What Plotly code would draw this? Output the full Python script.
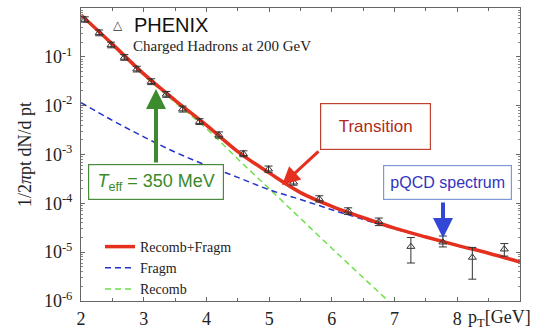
import plotly.graph_objects as go

# ---------------- data ----------------
curve_x = [2.0, 2.5, 3.0, 3.5, 4.0, 4.5, 5.0, 5.5, 6.0, 6.5, 7.0, 7.5, 8.0, 8.5, 9.0]
recomb_fragm = [0.72, 0.182, 0.0447, 0.0129, 4.0e-3, 1.15e-3, 4.2e-4, 1.66e-4,
                8.7e-5, 5.1e-5, 3.1e-5, 2.04e-5, 1.38e-5, 9.5e-6, 6.3e-6]
fragm = [1.15e-2, 5.0e-3, 2.3e-3, 1.12e-3, 6.0e-4, 3.4e-4, 1.9e-4, 1.2e-4,
         7.4e-5, 4.7e-5, 3.0e-5, 2.04e-5, 1.38e-5, 9.5e-6, 6.3e-6]
recomb_x = [2.0, 2.5, 3.0, 3.5, 4.0, 4.5, 5.0, 5.5, 6.0, 6.5, 7.0]
recomb = [0.71, 0.174, 0.0417, 0.0117, 3.4e-3, 8.1e-4, 2.0e-4, 4.9e-5, 1.2e-5, 3.0e-6, 7.6e-7]

phenix_pt = [2.06, 2.29, 2.48, 2.69, 2.89, 3.12, 3.36, 3.62, 3.89, 4.20,
             4.59, 4.99, 5.39, 5.80, 6.26, 6.75, 7.26, 7.77, 8.24, 8.75]
phenix_y = [0.58, 0.31, 0.175, 0.097, 0.056, 0.031, 0.017, 0.0085, 0.0047, 0.0025,
            1.03e-3, 5.0e-4, 2.7e-4, 1.23e-4, 6.9e-5, 4.2e-5, 1.3e-5, 1.6e-5, 7.8e-6, 1.15e-5]
phenix_err_up = [0.08, 0.045, 0.025, 0.014, 0.008, 0.0045, 0.0025, 0.0013, 0.0007, 0.0004,
                 1.6e-4, 8e-5, 4e-5, 2e-5, 1.2e-5, 8e-6, 7e-6, 5.4e-6, 4.7e-6, 3.5e-6]
phenix_err_dn = [0.07, 0.04, 0.022, 0.012, 0.007, 0.004, 0.0022, 0.0011, 0.0006, 0.00033,
                 1.3e-4, 7e-5, 3.5e-5, 1.7e-5, 1e-5, 7e-6, 7e-6, 3.2e-6, 5.0e-6, 3.2e-6]

x_ticks = [2, 3, 4, 5, 6, 7, 8]
y_tick_vals = [1e-6, 1e-5, 1e-4, 1e-3, 1e-2, 1e-1, 1]
y_tick_text = ["10<sup>-6</sup>", "10<sup>-5</sup>", "10<sup>-4</sup>", "10<sup>-3</sup>",
               "10<sup>-2</sup>", "10<sup>-1</sup>", "10<sup>0</sup>"]

SERIF = "Liberation Serif"
SANS = "Liberation Sans"

# plot-area pixel geometry
W, H = 549, 330
L, R, T, B = 81, 29, 8, 29
PW, PH = W - L - R, H - T - B


def px(x):
    return (x - L) / PW


def py(y):
    return (H - B - y) / PH


fig = go.Figure()
fig.add_trace(go.Scatter(x=recomb_x, y=recomb, mode="lines", name="Recomb", legendrank=3,
                         line=dict(color="#6ee04a", width=1.5, dash="6px,4px", shape="spline")))
fig.add_trace(go.Scatter(x=curve_x, y=fragm, mode="lines", name="Fragm", legendrank=2,
                         line=dict(color="#2233cc", width=1.5, dash="6px,4px", shape="spline")))
fig.add_trace(go.Scatter(x=curve_x, y=recomb_fragm, mode="lines", name="Recomb+Fragm", legendrank=1,
                         line=dict(color="#e5301f", width=3.5, shape="spline")))
fig.add_trace(go.Scatter(x=phenix_pt, y=phenix_y, mode="markers", showlegend=False,
                         marker=dict(symbol="triangle-up-open", size=7, color="#333",
                                     line=dict(width=1)),
                         error_y=dict(type="data", symmetric=False, array=phenix_err_up,
                                      arrayminus=phenix_err_dn, color="#333",
                                      thickness=1, width=4)))

fig.update_layout(
    width=W, height=H,
    margin=dict(l=L, r=R, t=T, b=B, autoexpand=False),
    paper_bgcolor="white", plot_bgcolor="white",
    showlegend=True,
    legend=dict(x=px(100), y=py(231), xanchor="left", yanchor="top",
                bgcolor="rgba(0,0,0,0)", borderwidth=0,
                font=dict(family=SERIF, size=14, color="#222"),
                tracegroupgap=0, itemwidth=30),
    xaxis=dict(range=[2, 9], tickvals=x_ticks, ticks="inside", ticklen=4, automargin=False,
               showline=True, mirror="ticks", linecolor="#666", linewidth=1,
               tickcolor="#666", showgrid=False, zeroline=False, ticklabelstandoff=1,
               tickfont=dict(family=SERIF, size=18, color="#222"),
               minor=dict(dtick=0.5, ticks="inside", ticklen=3, tickcolor="#666", showgrid=False)),
    yaxis=dict(type="log", range=[-6, 0], tickvals=y_tick_vals, ticktext=y_tick_text,
               ticks="inside", ticklen=4, showline=True, mirror="ticks", automargin=False,
               linecolor="#666", linewidth=1, tickcolor="#666", showgrid=False,
               zeroline=False, ticklabelstandoff=4,
               tickfont=dict(family=SERIF, size=18, color="#222"),
               minor=dict(dtick="D1", ticks="inside", ticklen=2, tickcolor="#888", showgrid=False)),
)


def note(x, y, text, **kw):
    d = dict(x=px(x), y=py(y), xref="paper", yref="paper", showarrow=False,
             text=text, xanchor="center", yanchor="middle")
    d.update(kw)
    return d


ann = []
# y axis title
ann.append(note(25, 154, "1/2<i>π</i>pt dN/d pt", textangle=-90,
                font=dict(family=SERIF, size=18, color="#222")))
# x axis title
ann.append(note(466, 318, "p<sub>T</sub>[GeV]", xanchor="left",
                font=dict(family=SERIF, size=18, color="#222")))
# PHENIX label
ann.append(note(118, 25, "△", font=dict(family="DejaVu Sans", size=12, color="#333")))
ann.append(note(132, 25, "PHENIX", xanchor="left",
                font=dict(family=SANS, size=20, color="#111")))
ann.append(note(131, 46, "Charged Hadrons at 200 GeV", xanchor="left",
                font=dict(family=SERIF, size=15, color="#222")))
# Transition box + arrow
ann.append(note(375.5, 126, "Transition", width=109, height=45, borderpad=0,
                bordercolor="#c04030", borderwidth=1.2, bgcolor="white",
                font=dict(family=SANS, size=17, color="#b02a1c")))
ann.append(note(282, 185, "", showarrow=True, ax=38, ay=-35, arrowhead=2, arrowsize=1.2,
                arrowwidth=3, arrowcolor="#e5301f"))
# pQCD box + arrow
ann.append(note(447.5, 182.5, "pQCD spectrum", width=127, height=33, borderpad=0,
                bordercolor="#7d9ad4", borderwidth=1.2, bgcolor="white",
                font=dict(family=SANS, size=16, color="#3333c0")))
ann.append(note(443, 238, "", showarrow=True, ax=0, ay=-37, arrowhead=2, arrowsize=1,
                arrowwidth=4, arrowcolor="#3347d6"))
# T_eff box + arrow
ann.append(note(156, 182, "<i>T</i><sub>eff</sub> = 350 MeV", width=134, height=34, borderpad=0,
                bordercolor="#4a8a3a", borderwidth=1.2, bgcolor="white",
                font=dict(family=SANS, size=18, color="#3a8a2a")))
ann.append(note(156, 89, "", showarrow=True, ax=0, ay=75, arrowhead=2, arrowsize=1,
                arrowwidth=4, arrowcolor="#3e8a2e"))
fig.update_layout(annotations=ann)

fig.write_html("out.html")
